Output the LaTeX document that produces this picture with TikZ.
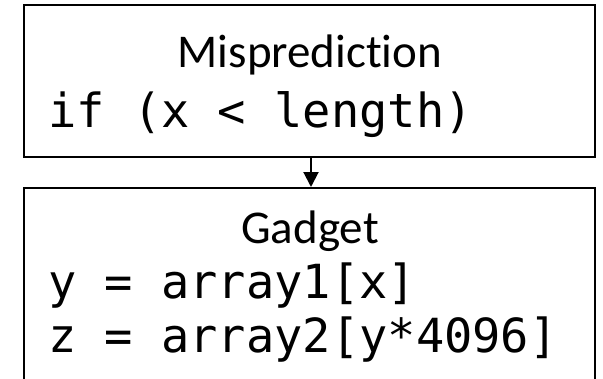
\documentclass[tikz,border=0pt]{standalone}
\usepackage{fontspec}
\setmainfont{Carlito}[Ligatures=NoCommon]
\newfontfamily\codefont{DejaVu Sans Mono}
\usetikzlibrary{arrows.meta}
\begin{document}
\begin{tikzpicture}[x=1pt,y=-1pt,
  boxline/.style={draw=black, line width=2.3pt},
  title/.style={font=\fontsize{47}{54}\selectfont, anchor=base, inner sep=0pt},
  code/.style={font=\codefont\fontsize{47}{54}\selectfont, anchor=base west, inner sep=0pt},
  flow/.style={draw=black, line width=2pt, -{Triangle[length=15pt,width=15pt]}}]
\useasboundingbox[fill=white] (0,0) rectangle (603,378);
% top box
\node[boxline, rectangle, minimum width=571pt, minimum height=152pt, inner sep=0pt] (mis) at (309.5,81) {};
\node[title] (mist) at (310,67.5) {Misprediction};
\node[code] (misc) at (48,127) {if (x < length)};
% bottom box (open at the bottom)
\coordinate (gbl) at (24,379);
\coordinate (gtl) at (24,188);
\coordinate (gtr) at (595,188);
\coordinate (gbr) at (595,379);
\draw[boxline, line join=miter] (gbl) -- (gtl) -- (gtr) -- (gbr);
\node[title] (gadt) at (310,243) {Gadget};
\node[code] (gad1) at (48,298) {y = array1[x]};
\node[code] (gad2) at (48,352) {z = array2[y*4096]};
% connector
\coordinate (gin) at (311,187);
\draw[flow] (mis.south -| gin) -- (gin);
\end{tikzpicture}
\end{document}
